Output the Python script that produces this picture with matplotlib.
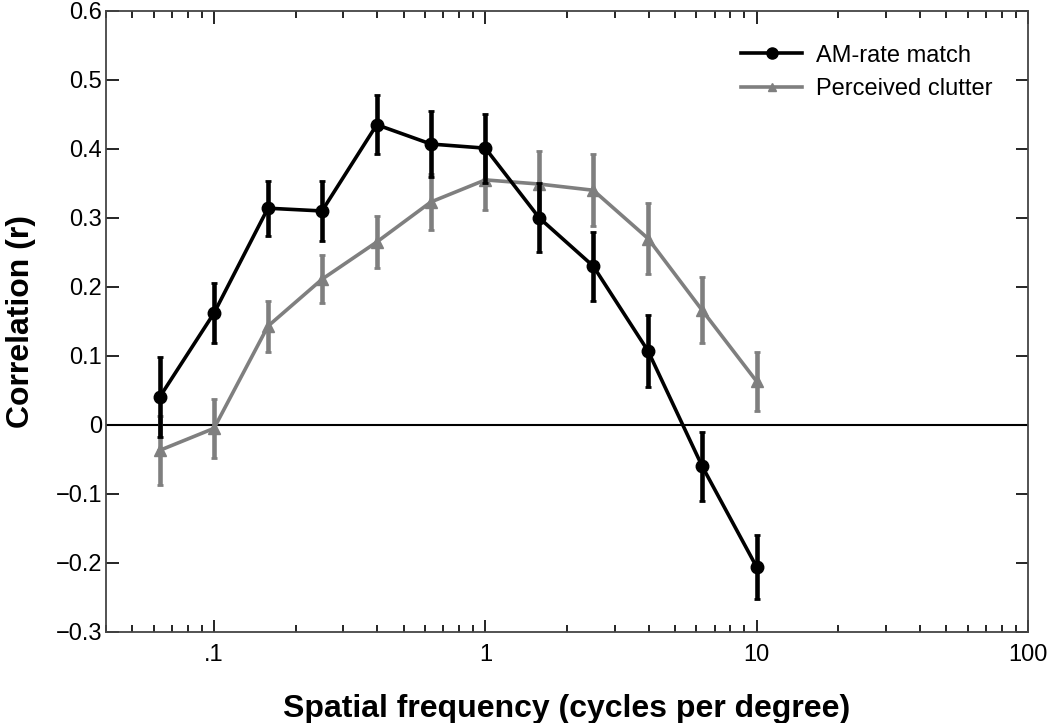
import matplotlib
matplotlib.use("Agg")
import matplotlib.pyplot as plt
import numpy as np
from matplotlib.lines import Line2D
from matplotlib.ticker import FixedLocator, FixedFormatter, LogLocator, NullFormatter

plt.rcParams["font.family"] = ["Liberation Sans", "DejaVu Sans"]

# spatial frequencies (cycles per degree)
freq = [0.063, 0.1, 0.158, 0.25, 0.398, 0.63, 1.0, 1.58, 2.5, 3.98, 6.3, 10.0]

am_rate = [0.040, 0.162, 0.314, 0.310, 0.435, 0.407, 0.401, 0.300, 0.230, 0.107, -0.060, -0.206]
am_err = [0.058, 0.043, 0.040, 0.043, 0.043, 0.048, 0.050, 0.050, 0.050, 0.052, 0.050, 0.047]

clutter = [-0.037, -0.005, 0.143, 0.211, 0.265, 0.323, 0.355, 0.349, 0.340, 0.270, 0.166, 0.063]
clutter_err = [0.050, 0.043, 0.037, 0.035, 0.037, 0.040, 0.043, 0.048, 0.052, 0.052, 0.048, 0.043]

xticks = [0.1, 1, 10, 100]
xticklabels = [".1", "1", "10", "100"]
yticks = [-0.3, -0.2, -0.1, 0, 0.1, 0.2, 0.3, 0.4, 0.5, 0.6]
yticklabels = ["\u22120.3", "\u22120.2", "\u22120.1", "0", "0.1", "0.2", "0.3", "0.4", "0.5", "0.6"]

fig = plt.figure(figsize=(10.5, 7.23), dpi=100)
ax = fig.add_axes([0.101, 0.126, 0.878, 0.859])

gray = "#7f7f7f"
ax.axhline(0, color="black", lw=1.5, zorder=1)

ax.errorbar(freq, clutter, yerr=clutter_err, color=gray, ecolor=gray, lw=2.6,
            elinewidth=3.3, capsize=2.5, capthick=2, marker="^", markersize=9, zorder=2)
ax.errorbar(freq, am_rate, yerr=am_err, color="black", ecolor="black", lw=2.6,
            elinewidth=3.3, capsize=2.5, capthick=2, marker="o", markersize=9, zorder=3)

ax.set_xscale("log")
ax.set_xlim(0.04, 100)
ax.set_ylim(-0.3, 0.6)

ax.xaxis.set_major_locator(FixedLocator(xticks))
ax.xaxis.set_major_formatter(FixedFormatter(xticklabels))
ax.xaxis.set_minor_locator(LogLocator(base=10, subs=np.arange(2, 10)))
ax.xaxis.set_minor_formatter(NullFormatter())
ax.set_yticks(yticks)
ax.set_yticklabels(yticklabels)

ax.tick_params(which="both", direction="in", top=True, right=True, labelsize=17, width=1.2)
ax.tick_params(which="major", length=9)
ax.tick_params(which="minor", length=5)
ax.tick_params(axis="x", which="major", pad=9)
ax.tick_params(axis="y", which="major", pad=3)
for s in ax.spines.values():
    s.set_linewidth(1.3)
    s.set_color("#444444")

ax.set_xlabel("Spatial frequency (cycles per degree)", fontsize=23, fontweight="bold", labelpad=20)
ax.set_ylabel("Correlation (r)", fontsize=23, fontweight="bold", labelpad=14)

handles = [
    Line2D([], [], color="black", lw=2.6, marker="o", markersize=8),
    Line2D([], [], color=gray, lw=2.6, marker="^", markersize=6),
]
ax.legend(handles, ["AM-rate match", "Perceived clutter"], loc="upper right", frameon=False,
          fontsize=17, handlelength=2.6, handletextpad=0.6, bbox_to_anchor=(0.985, 0.98))

fig.savefig("out.png", dpi=100)
